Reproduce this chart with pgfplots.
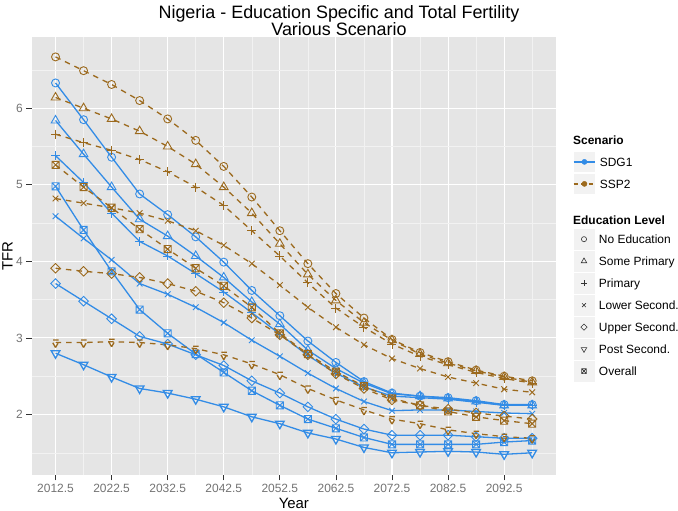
\documentclass[border=0pt]{standalone}
\usepackage{pgfplots}
\pgfplotsset{compat=1.18}
\usepackage{pgfplotstable}
\usepackage{fontspec}
\setmainfont{Liberation Sans}

\definecolor{sdg}{RGB}{51,140,230}
\definecolor{ssp}{RGB}{156,106,30}
\definecolor{panel}{RGB}{229,229,229}
\definecolor{minorg}{RGB}{242,242,242}
\definecolor{keybg}{RGB}{242,242,242}

\pgfdeclareplotmark{dmd}{%
  \pgfpathmoveto{\pgfqpoint{0pt}{1.2\pgfplotmarksize}}%
  \pgfpathlineto{\pgfqpoint{1.2\pgfplotmarksize}{0pt}}%
  \pgfpathlineto{\pgfqpoint{0pt}{-1.2\pgfplotmarksize}}%
  \pgfpathlineto{\pgfqpoint{-1.2\pgfplotmarksize}{0pt}}%
  \pgfpathclose\pgfusepathqstroke}
\pgfdeclareplotmark{boxx}{%
  \pgfpathrectangle{\pgfqpoint{-0.85\pgfplotmarksize}{-0.85\pgfplotmarksize}}{\pgfqpoint{1.7\pgfplotmarksize}{1.7\pgfplotmarksize}}%
  \pgfpathmoveto{\pgfqpoint{-0.85\pgfplotmarksize}{-0.85\pgfplotmarksize}}%
  \pgfpathlineto{\pgfqpoint{0.85\pgfplotmarksize}{0.85\pgfplotmarksize}}%
  \pgfpathmoveto{\pgfqpoint{-0.85\pgfplotmarksize}{0.85\pgfplotmarksize}}%
  \pgfpathlineto{\pgfqpoint{0.85\pgfplotmarksize}{-0.85\pgfplotmarksize}}%
  \pgfusepathqstroke}

\pgfplotstableread{
year   noed somep prim lows ups posts overall
2012.5 6.33 5.84 5.38 4.59 3.71 2.80 4.98
2017.5 5.85 5.40 5.03 4.30 3.48 2.65 4.41
2022.5 5.36 4.97 4.63 4.02 3.25 2.49 3.87
2027.5 4.88 4.55 4.26 3.71 3.02 2.34 3.37
2032.5 4.61 4.33 4.07 3.57 2.92 2.28 3.06
2037.5 4.32 4.07 3.84 3.40 2.78 2.20 2.79
2042.5 3.99 3.79 3.60 3.20 2.64 2.10 2.55
2047.5 3.62 3.47 3.33 2.97 2.44 1.97 2.31
2052.5 3.29 3.18 3.05 2.76 2.28 1.88 2.12
2057.5 2.96 2.84 2.77 2.54 2.10 1.76 1.94
2062.5 2.68 2.60 2.54 2.34 1.94 1.68 1.82
2067.5 2.43 2.41 2.36 2.17 1.81 1.57 1.70
2072.5 2.28 2.27 2.24 2.05 1.73 1.50 1.61
2077.5 2.24 2.24 2.22 2.06 1.73 1.51 1.61
2082.5 2.22 2.21 2.20 2.06 1.73 1.52 1.61
2087.5 2.18 2.17 2.16 2.04 1.71 1.51 1.61
2092.5 2.13 2.12 2.12 2.02 1.69 1.48 1.64
2097.5 2.13 2.12 2.12 2.01 1.69 1.50 1.66
}\sdgtab

\pgfplotstableread{
year   noed somep prim lows ups posts overall
2012.5 6.67 6.14 5.66 4.82 3.91 2.94 5.26
2017.5 6.49 6.00 5.55 4.76 3.87 2.94 4.97
2022.5 6.31 5.86 5.45 4.70 3.84 2.95 4.70
2027.5 6.10 5.70 5.33 4.63 3.79 2.94 4.42
2032.5 5.86 5.50 5.17 4.53 3.71 2.91 4.16
2037.5 5.58 5.27 4.97 4.40 3.61 2.86 3.91
2042.5 5.24 4.97 4.73 4.21 3.46 2.78 3.68
2047.5 4.84 4.63 4.40 3.97 3.26 2.66 3.40
2052.5 4.40 4.23 4.07 3.69 3.04 2.52 3.06
2057.5 3.97 3.83 3.72 3.40 2.78 2.34 2.79
2062.5 3.58 3.49 3.39 3.14 2.53 2.19 2.56
2067.5 3.26 3.20 3.14 2.91 2.34 2.06 2.37
2072.5 2.98 2.97 2.92 2.73 2.19 1.94 2.21
2077.5 2.81 2.79 2.76 2.60 2.12 1.88 2.12
2082.5 2.69 2.67 2.65 2.49 2.07 1.80 2.04
2087.5 2.58 2.57 2.55 2.41 2.02 1.75 1.97
2092.5 2.50 2.49 2.47 2.33 1.98 1.71 1.92
2097.5 2.44 2.42 2.41 2.29 1.94 1.69 1.88
}\ssptab

\pgfplotsset{
  sdgline/.style={color=sdg, line width=1.3bp, mark options={solid, line width=0.9bp}},
  sspline/.style={color=ssp, line width=1.3bp, dash pattern=on 5.5bp off 5bp, mark options={solid, line width=0.9bp}},
  mk1/.style={mark=o, mark size=4bp},
  mk2/.style={mark=triangle, mark size=5bp},
  mk3/.style={mark=+, mark size=4.5bp},
  mk4/.style={mark=x, mark size=4bp},
  mk5/.style={mark=dmd, mark size=4bp},
  mk6/.style={mark=triangle, mark size=5bp, mark options={rotate=180}},
  mk7/.style={mark=boxx, mark size=4.2bp},
  keylegend/.style={legend style={draw=none, fill=none, inner sep=0pt, outer sep=0pt,
      row sep=0pt, column sep=4bp, anchor=north west,
      nodes={inner sep=0pt, text height=8.6bp, text depth=0pt, anchor=west,
        font=\fontsize{12}{14}\selectfont}},
    legend cell align=left},
}

\newcommand{\edukey}[1]{\addlegendimage{legend image code/.code={%
  \fill[keybg, draw=white] (0bp,-10.8bp) rectangle (21.6bp,10.8bp);
  \draw[black!80, line width=0.6bp, only marks, #1] plot coordinates {(10.8bp,0bp)};}}}

\begin{document}
\begin{tikzpicture}
\useasboundingbox (0,0) rectangle (678bp,511bp);
\begin{axis}[
  at={(31.7bp,36bp)}, anchor=south west, scale only axis,
  width=524.3bp, height=438bp,
  xmin=2008.25, xmax=2101.75, ymin=1.21, ymax=6.93,
  axis background/.style={fill=panel},
  axis line style={draw=none},
  xtick={2012.5,2022.5,2032.5,2042.5,2052.5,2062.5,2072.5,2082.5,2092.5},
  xticklabels={2012.5,2022.5,2032.5,2042.5,2052.5,2062.5,2072.5,2082.5,2092.5},
  minor xtick={2017.5,2027.5,2037.5,2047.5,2057.5,2067.5,2077.5,2087.5,2097.5},
  ytick={2,3,4,5,6},
  minor ytick={1.5,2.5,3.5,4.5,5.5,6.5},
  grid=both,
  major grid style={white, line width=1.1bp},
  minor grid style={minorg, line width=0.55bp},
  tick align=outside, tick pos=left,
  major tick length=5.3bp, minor tick length=0pt,
  tick style={color=black!80, line width=0.8bp},
  /pgf/number format/assume math mode=true,
  ticklabel style={font=\fontsize{12}{12}\selectfont, color=black!55},
  xticklabel style={text height=8.6bp, text depth=0pt},
  xlabel={Year}, ylabel={TFR},
  xlabel style={font=\fontsize{15}{15}\selectfont, at={(axis description cs:0.5,-0.064)}, anchor=center},
  ylabel style={font=\fontsize{15}{15}\selectfont, at={(axis description cs:-0.0462,0.5)}, anchor=center},
  keylegend,
  legend style={at={(axis description cs:1.0324,0.740)}},
]
\addlegendimage{legend image code/.code={%
  \fill[keybg, draw=white] (0bp,-10.8bp) rectangle (21.6bp,10.8bp);
  \draw[sdg, line width=1.3bp] (0bp,0bp) -- (21.6bp,0bp);
  \fill[sdg] (10.8bp,0bp) circle (2.6bp);}}
\addlegendentry{SDG1}
\addlegendimage{legend image code/.code={%
  \fill[keybg, draw=white] (0bp,-10.8bp) rectangle (21.6bp,10.8bp);
  \draw[ssp, line width=1.3bp, dash pattern=on 4.5bp off 3bp] (0bp,0bp) -- (21.6bp,0bp);
  \fill[ssp] (10.8bp,0bp) circle (2.6bp);}}
\addlegendentry{SSP2}

\addplot[sdgline, mk1] table[x=year, y=noed] {\sdgtab};
\addplot[sdgline, mk2] table[x=year, y=somep] {\sdgtab};
\addplot[sdgline, mk3] table[x=year, y=prim] {\sdgtab};
\addplot[sdgline, mk4] table[x=year, y=lows] {\sdgtab};
\addplot[sdgline, mk5] table[x=year, y=ups] {\sdgtab};
\addplot[sdgline, mk6] table[x=year, y=posts] {\sdgtab};
\addplot[sdgline, mk7] table[x=year, y=overall] {\sdgtab};

\addplot[sspline, mk1] table[x=year, y=noed] {\ssptab};
\addplot[sspline, mk2] table[x=year, y=somep] {\ssptab};
\addplot[sspline, mk3] table[x=year, y=prim] {\ssptab};
\addplot[sspline, mk4] table[x=year, y=lows] {\ssptab};
\addplot[sspline, mk5] table[x=year, y=ups] {\ssptab};
\addplot[sspline, mk6] table[x=year, y=posts] {\ssptab};
\addplot[sspline, mk7] table[x=year, y=overall] {\ssptab};
\end{axis}

\begin{axis}[
  at={(31.7bp,36bp)}, anchor=south west, scale only axis,
  width=524.3bp, height=438bp, hide axis,
  xmin=0, xmax=1, ymin=0, ymax=1,
  keylegend,
  legend style={at={(axis description cs:1.0324,0.5635)}},
]
\edukey{mark=o, mark size=2.6bp}
\addlegendentry{No Education}
\edukey{mark=triangle, mark size=3.2bp}
\addlegendentry{Some Primary}
\edukey{mark=+, mark size=3bp}
\addlegendentry{Primary}
\edukey{mark=x, mark size=2.7bp}
\addlegendentry{Lower Second.}
\edukey{mark=dmd, mark size=2.6bp}
\addlegendentry{Upper Second.}
\edukey{mark=triangle, mark size=3.2bp, mark options={rotate=180}}
\addlegendentry{Post Second.}
\edukey{mark=boxx, mark size=2.8bp}
\addlegendentry{Overall}
\end{axis}

\node[anchor=west, font=\fontsize{12}{14}\selectfont\bfseries, text height=8.6bp, text depth=0pt, inner sep=0pt] at (573bp,371bp) {Scenario};
\node[anchor=west, font=\fontsize{12}{14}\selectfont\bfseries, text height=8.6bp, text depth=0pt, inner sep=0pt] at (573bp,291bp) {Education Level};
\node[align=center, font=\fontsize{18}{17}\selectfont, inner sep=0pt] at (339bp,490.5bp) {Nigeria - Education Specific and Total Fertility\\Various Scenario};
\end{tikzpicture}
\end{document}
